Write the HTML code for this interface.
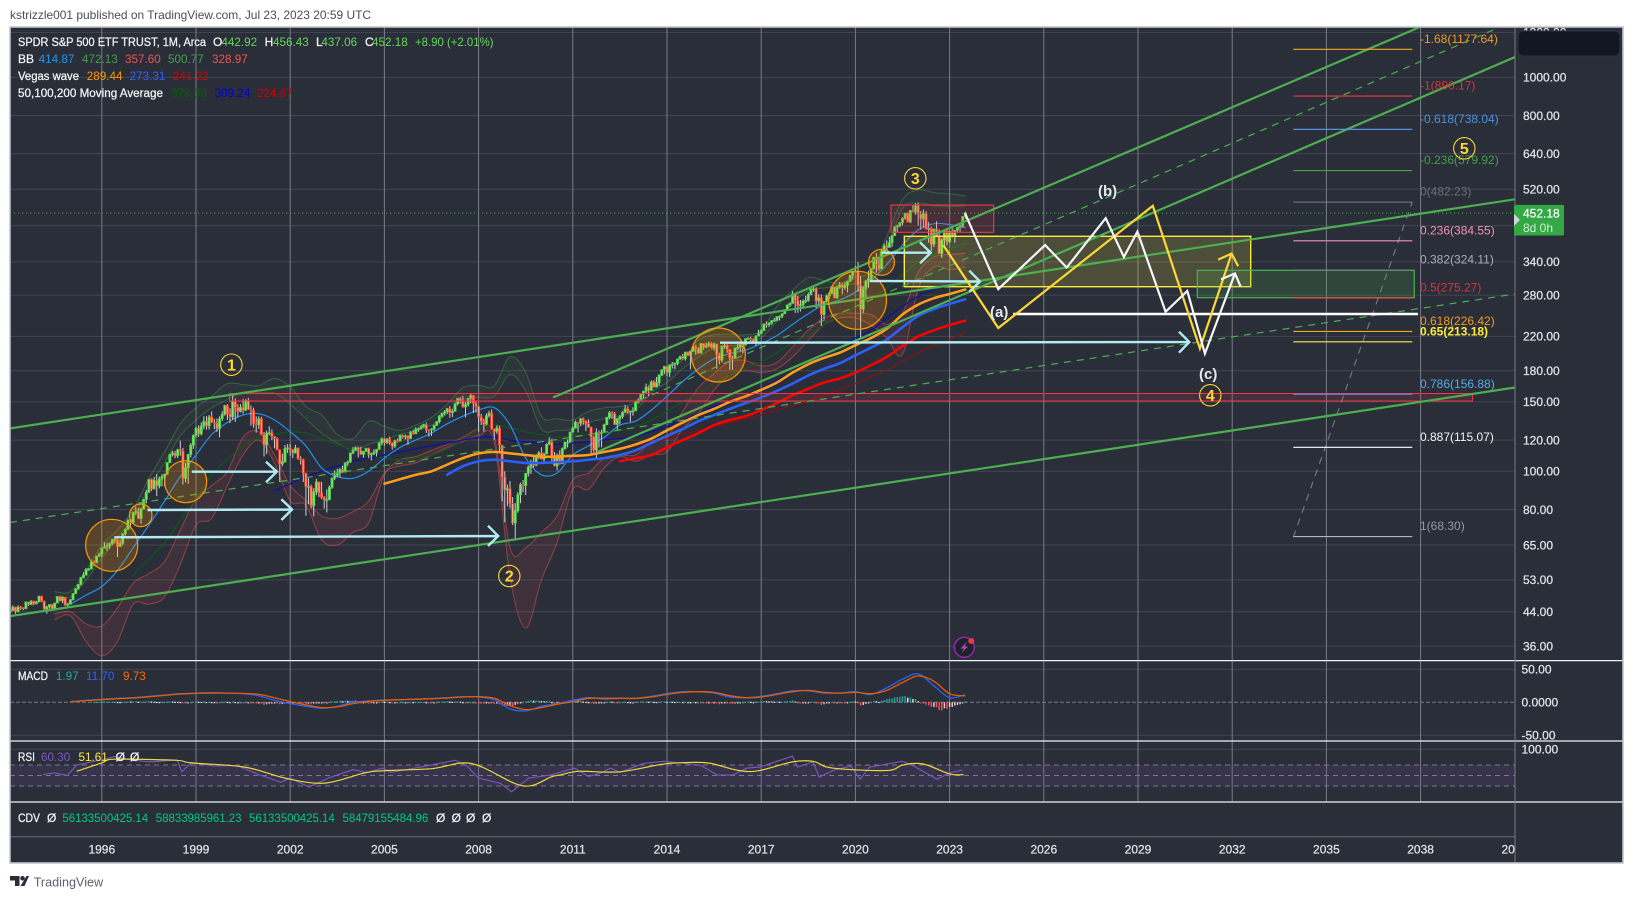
<!DOCTYPE html>
<html lang="en">
<head>
<meta charset="utf-8">
<title>SPDR S&amp;P 500 ETF Trust monthly chart</title>
<style>
html,body{margin:0;padding:0;background:#fff;width:1634px;height:899px;overflow:hidden}
svg{display:block}
text{font-family:"Liberation Sans",sans-serif;font-size:12px}
.axis{fill:#dfe1e6;stroke:#dfe1e6;stroke-width:.25}
.name{fill:#eceef2;stroke:#eceef2;stroke-width:.3}
.num{font-size:11.7px}
.wave-tag{font-size:15px;font-weight:bold;fill:#e6e8ec}
.num-tag{font-size:16px;font-weight:bold;text-anchor:middle}
</style>
</head>
<body>
<svg id="chart" xmlns="http://www.w3.org/2000/svg" width="1634" height="899" viewBox="0 0 1634 899">
  <defs>
    <clipPath id="price-clip"><rect x="11" y="28" width="1504" height="632.5"/></clipPath>
    <clipPath id="macd-clip"><rect x="11" y="661" width="1504" height="80"/></clipPath>
    <clipPath id="rsi-clip"><rect x="11" y="741" width="1504" height="61"/></clipPath>
    <clipPath id="axis-top-clip"><rect x="1516" y="28" width="107" height="120"/></clipPath>
    <clipPath id="time-clip"><rect x="11" y="837" width="1504" height="26"/></clipPath>
  </defs>
  <rect x="0" y="0" width="1634" height="899" fill="#ffffff"/>
  <text x="10" y="19" fill="#4a4d57" textLength="361" lengthAdjust="spacingAndGlyphs">kstrizzle001 published on TradingView.com, Jul 23, 2023 20:59 UTC</text>
  <rect x="10" y="27" width="1613" height="836" fill="#2a2e39"/>
  <g id="grid-layer"></g>
  <g id="rsi-band-layer" clip-path="url(#rsi-clip)">
    <rect x="10" y="765" width="1505" height="21" fill="#7e57c2" fill-opacity=".14"/>
    <line x1="10" x2="1515" y1="765" y2="765" stroke="#787b86" stroke-dasharray="5 4"/>
    <line x1="10" x2="1515" y1="775.5" y2="775.5" stroke="#787b86" stroke-dasharray="5 4"/>
    <line x1="10" x2="1515" y1="786" y2="786" stroke="#787b86" stroke-dasharray="5 4"/>
  </g>
  <g id="price-layer" clip-path="url(#price-clip)"></g>
  <g id="annotation-layer" clip-path="url(#price-clip)">
    <rect x="229.5" y="393.5" width="1243" height="7.5" fill="#f23645" fill-opacity=".14" stroke="#f23645" stroke-width="1"/>
    <rect x="891" y="205" width="102.7" height="27.3" fill="#f23645" fill-opacity=".15" stroke="#f23645" stroke-width="1.1"/>
    <rect x="904.3" y="236.3" width="346.4" height="50.4" fill="#ffeb3b" fill-opacity=".17" stroke="#ffeb3b" stroke-width="1.4"/>
    <rect x="1197.3" y="270.3" width="217" height="27.4" fill="#4caf50" fill-opacity=".18" stroke="#4caf50" stroke-width="1.2"/>
    <line x1="10" y1="428.4" x2="1515" y2="199.3" stroke="#4caf50" stroke-width="2.2"/>
    <line x1="10" y1="616.2" x2="1515" y2="387.5" stroke="#4caf50" stroke-width="2.2"/>
    <line x1="553" y1="397.5" x2="1420" y2="27" stroke="#4caf50" stroke-width="2.2"/>
    <line x1="597" y1="452" x2="1515" y2="57" stroke="#4caf50" stroke-width="2.2"/>
    <line x1="640" y1="400" x2="1500" y2="27" stroke="#4caf50" stroke-width="1.2" stroke-dasharray="7 6"/>
    <line x1="10" y1="522.5" x2="1515" y2="294" stroke="#4caf50" stroke-width="1.2" stroke-dasharray="7 6"/>
    <line x1="1293.3" y1="537.3" x2="1412.3" y2="202" stroke="#787b86" stroke-width="1.1" stroke-dasharray="7 6"/>
    <circle cx="111.7" cy="545.3" r="26" fill="#ff9800" fill-opacity=".22" stroke="#ff9800" stroke-width="1.2"/>
    <circle cx="140.7" cy="515.3" r="11.3" fill="#ff9800" fill-opacity=".22" stroke="#ff9800" stroke-width="1.2"/>
    <circle cx="185.7" cy="481.7" r="21" fill="#ff9800" fill-opacity=".22" stroke="#ff9800" stroke-width="1.2"/>
    <circle cx="718.3" cy="355" r="27" fill="#ff9800" fill-opacity=".22" stroke="#ff9800" stroke-width="1.2"/>
    <circle cx="857.5" cy="300.3" r="29" fill="#ff9800" fill-opacity=".22" stroke="#ff9800" stroke-width="1.2"/>
    <circle cx="881.5" cy="262.3" r="13" fill="#ff9800" fill-opacity=".22" stroke="#ff9800" stroke-width="1.2"/>
    <g fill="none" stroke="#b2ebf2" stroke-width="2.4">
      <path d="M114.3 537.3L498.2 536M488 525.7L498.2 536L488 546"/>
      <path d="M147.5 510L292 509.5M281.4 499.3L292 509.5L281.4 520"/>
      <path d="M191.8 471.7L276.8 471.7M266 461.7L276.8 471.7L266 482.3"/>
      <path d="M720 342.7L1189.3 342M1179 331.7L1189.3 342L1179 352.7"/>
      <path d="M870 281L980 281.5M969.3 270.7L980 281.5L969.3 291.7"/>
      <path d="M881.7 252.7L930.7 252.7M920 242.3L930.7 252.7L920 263.3"/>
    </g>
    <line x1="1013" y1="314" x2="1418" y2="314" stroke="#ffffff" stroke-width="2.4"/>
  </g>
  <g id="fib-layer" clip-path="url(#price-clip)"></g>
  <g id="wave-layer" clip-path="url(#price-clip)"></g>
  <g>
    <text class="wave-tag" x="990" y="317">(a)</text>
    <text class="wave-tag" x="1098" y="196">(b)</text>
    <text class="wave-tag" x="1199" y="379">(c)</text>
    <circle cx="231.4" cy="364.7" r="10.7" fill="none" stroke="#fdd835" stroke-width="1.1"/>
    <text class="num-tag" x="231.4" y="370.4" fill="#fdd835">1</text>
    <circle cx="509.3" cy="576" r="10.7" fill="none" stroke="#fdd835" stroke-width="1.1"/>
    <text class="num-tag" x="509.3" y="581.7" fill="#fdd835">2</text>
    <circle cx="915.3" cy="178.3" r="10.7" fill="none" stroke="#fdd835" stroke-width="1.1"/>
    <text class="num-tag" x="915.3" y="184" fill="#fdd835">3</text>
    <circle cx="1210.3" cy="395.3" r="10.7" fill="none" stroke="#fdd835" stroke-width="1.1"/>
    <text class="num-tag" x="1210.3" y="401" fill="#fdd835">4</text>
    <circle cx="1464.3" cy="148.3" r="10.7" fill="none" stroke="#fdd835" stroke-width="1.1"/>
    <text class="num-tag" x="1464.3" y="154" fill="#fdd835">5</text>
  </g>
  <g id="macd-layer" clip-path="url(#macd-clip)"></g>
  <g id="rsi-layer" clip-path="url(#rsi-clip)"></g>
  <g>
    <line x1="10" x2="1623" y1="660.6" y2="660.6" stroke="#f0f1f3" stroke-width="1.2"/>
    <line x1="10" x2="1623" y1="741" y2="741" stroke="#f0f1f3" stroke-width="1.2"/>
    <line x1="10" x2="1623" y1="802" y2="802" stroke="#f0f1f3" stroke-width="1.2"/>
    <line x1="10" x2="1515" y1="836.7" y2="836.7" stroke="#6a6d78" stroke-width="1"/>
    <line x1="1515" x2="1515" y1="27" y2="863" stroke="#787b86" stroke-width="1"/>
  </g>
  <g id="axis-layer"></g>
  <rect x="1518" y="31" width="102" height="25" rx="5" fill="#131722" stroke="#2f3341"/>
  <g id="badge-layer"></g>
  <g>
    <circle cx="964.3" cy="647.3" r="10" fill="#1e222d" stroke="#9c27b0" stroke-width="1.4"/>
    <path d="M967 641.5L960.5 648.5H964L961.5 653L968 646.5H964.5Z" fill="#ab47bc"/>
    <circle cx="971.3" cy="641" r="3" fill="#f23645"/>
  </g>
  <g>
    <text class="name" x="18" y="46" textLength="188" lengthAdjust="spacingAndGlyphs">SPDR S&amp;P 500 ETF TRUST, 1M, Arca</text>
    <text class="name" x="213" y="46">O</text>
    <text class="num" x="221.4" y="46" fill="#66d65c">442.92</text>
    <text class="name" x="264.6" y="46">H</text>
    <text class="num" x="273" y="46" fill="#66d65c">456.43</text>
    <text class="name" x="316" y="46">L</text>
    <text class="num" x="321.4" y="46" fill="#66d65c">437.06</text>
    <text class="name" x="365" y="46">C</text>
    <text class="num" x="372" y="46" fill="#66d65c">452.18</text>
    <text class="num" x="415" y="46" fill="#66d65c" textLength="78.5" lengthAdjust="spacingAndGlyphs">+8.90 (+2.01%)</text>
    <text class="name" x="18" y="63">BB</text>
    <text class="num" x="38.6" y="63" fill="#2196f3">414.87</text>
    <text class="num" x="82" y="63" fill="#43a047">472.13</text>
    <text class="num" x="125" y="63" fill="#ef5350">357.60</text>
    <text class="num" x="168" y="63" fill="#43a047">500.77</text>
    <text class="num" x="212" y="63" fill="#ef5350">328.97</text>
    <text class="name" x="18" y="80" textLength="61" lengthAdjust="spacingAndGlyphs">Vegas wave</text>
    <text class="num" x="86.8" y="80" fill="#ff9800">289.44</text>
    <text class="num" x="129.6" y="80" fill="#2962ff">273.31</text>
    <text class="num" x="172.9" y="80" fill="#d50000">241.22</text>
    <text class="name" x="18" y="97" textLength="145" lengthAdjust="spacingAndGlyphs">50,100,200 Moving Average</text>
    <text class="num" x="171" y="97" fill="#006400">378.30</text>
    <text class="num" x="214.6" y="97" fill="#0000cc">309.24</text>
    <text class="num" x="257" y="97" fill="#cc0000">224.67</text>
  </g>
  <g>
    <text class="name" x="18" y="680" textLength="30" lengthAdjust="spacingAndGlyphs">MACD</text>
    <text class="num" x="55.9" y="680" fill="#26a69a">1.97</text>
    <text class="num" x="86" y="680" fill="#2962ff">11.70</text>
    <text class="num" x="123" y="680" fill="#ff6d00">9.73</text>
  </g>
  <g>
    <text class="name" x="18" y="761" textLength="17" lengthAdjust="spacingAndGlyphs">RSI</text>
    <text class="num" x="41" y="761" fill="#7e57c2">60.30</text>
    <text class="num" x="78.5" y="761" fill="#ffeb3b">51.61</text>
    <text class="name" x="115.6" y="761">Ø</text>
    <text class="name" x="130" y="761">Ø</text>
  </g>
  <g>
    <text class="name" x="18" y="822" textLength="22" lengthAdjust="spacingAndGlyphs">CDV</text>
    <text class="name" x="47" y="822">Ø</text>
    <text x="62.4" y="822" fill="#00c982" textLength="85.7" lengthAdjust="spacingAndGlyphs">56133500425.14</text>
    <text x="155.8" y="822" fill="#00c982" textLength="85.7" lengthAdjust="spacingAndGlyphs">58833985961.23</text>
    <text x="249" y="822" fill="#00c982" textLength="85.7" lengthAdjust="spacingAndGlyphs">56133500425.14</text>
    <text x="342.5" y="822" fill="#00c982" textLength="85.7" lengthAdjust="spacingAndGlyphs">58479155484.96</text>
    <text class="name" x="436" y="822">Ø</text>
    <text class="name" x="451.6" y="822">Ø</text>
    <text class="name" x="466" y="822">Ø</text>
    <text class="name" x="482" y="822">Ø</text>
  </g>
  <rect x="10" y="27" width="1613" height="836" fill="none" stroke="#c3c5cb" stroke-width="1.6"/>
  <g>
    <path d="M10 876h9.5v10h-4.5v-5.5h-5zM26.5 876h2.5l-4.5 10h-4z" fill="#2a2e39"/>
    <circle cx="22.5" cy="878.3" r="2.3" fill="#2a2e39"/>
    <text x="33.7" y="886.5" fill="#5d606b" textLength="69.5" lengthAdjust="spacingAndGlyphs" style="font-size:13px">TradingView</text>
  </g>
<script>
/* ---------- price data: monthly SPY candles from Jan 1993 ---------- */
const firstMonthYear = 1993;
const closes = [
43.9,44.3,45.2,44.0,45.2,45.1,44.8,46.6,45.9,46.8,46.1,46.6,
48.2,46.8,44.7,45.3,45.9,44.7,46.3,48.1,46.9,47.9,45.8,46.0,
47.2,48.9,50.3,51.6,53.8,54.5,56.4,56.5,58.9,58.6,60.9,61.5,
63.8,64.3,64.7,65.5,67.1,67.2,64.4,65.7,69.4,71.2,75.2,74.1,
78.6,79.2,75.9,80.3,84.8,88.4,95.3,90.2,94.9,91.8,95.6,97.0,
98.3,105.2,110.2,111.3,109.5,113.5,112.6,95.9,102.1,110.3,116.5,123.3,
128.6,124.4,130.2,133.9,130.4,137.4,133.1,132.6,128.3,136.0,139.3,146.9,
139.6,137.4,150.4,145.1,141.8,145.3,143.0,151.3,143.6,142.8,131.8,131.2,
136.0,123.9,116.7,125.0,125.3,122.6,121.1,113.4,104.4,105.8,114.3,114.7,
113.3,111.3,114.6,107.7,106.9,98.9,91.5,91.6,81.8,88.7,94.0,88.2,
85.8,84.7,84.7,91.1,96.1,97.6,99.1,101.1,99.5,104.9,105.6,111.3,
113.1,114.8,113.1,110.4,112.3,114.4,110.3,110.9,111.8,113.6,118.1,120.9,
118.2,120.6,118.2,115.8,119.5,119.3,123.5,122.4,123.0,121.1,125.5,124.5,
128.0,128.1,129.7,131.5,127.5,127.3,127.9,130.9,133.6,137.9,140.4,141.6,
144.2,140.9,142.0,148.3,153.3,150.4,145.7,147.6,153.0,155.9,148.7,146.2,
137.4,133.8,131.9,138.3,140.4,127.9,126.2,128.8,116.5,96.8,89.6,90.3,
82.8,73.9,79.5,87.2,92.5,92.0,98.8,102.5,105.6,103.6,109.8,111.4,
107.4,110.7,117.0,118.8,108.9,103.2,110.0,104.5,114.1,118.5,118.5,125.8,
128.7,133.2,132.5,136.0,134.4,132.1,129.3,122.1,113.2,125.5,125.1,125.5,
131.3,137.0,140.8,139.9,131.5,136.1,137.7,141.2,144.0,141.5,142.2,142.4,
149.7,151.6,156.7,159.7,163.4,160.4,168.7,163.6,168.0,175.8,181.0,184.7,
178.2,186.3,187.0,188.3,192.7,195.7,193.1,200.7,197.0,201.7,207.2,205.5,
199.5,211.0,206.4,208.5,211.1,205.9,210.5,197.7,191.6,207.9,208.7,203.9,
193.7,193.6,205.5,206.3,209.8,209.5,217.1,217.4,216.3,212.6,220.4,223.5,
227.5,236.5,235.7,238.1,241.4,241.8,247.0,247.5,251.2,257.2,264.5,266.9,
281.9,271.7,263.2,264.5,270.9,271.3,281.3,290.3,290.7,270.6,275.7,249.9,
269.9,278.7,282.5,294.0,275.3,293.0,297.4,292.5,297.0,303.3,314.3,321.9,
321.7,296.3,257.8,290.5,304.3,308.4,326.5,349.3,334.9,326.5,362.1,373.9,
370.1,380.4,396.3,417.3,420.0,428.1,438.5,451.6,429.1,459.3,455.6,474.96,
449.9,436.6,451.6,412.0,412.9,377.3,411.99,395.2,357.2,386.2,407.7,382.4,
406.5,396.3,409.4,415.9,417.9,443.3,452.18];
const highs = [
44.2,45.1,45.7,45.3,45.7,45.5,45.2,46.6,46.7,47.1,47.0,46.9,
48.3,48.2,47.0,45.6,46.0,46.1,46.4,48.2,48.3,48.2,47.9,46.4,
47.4,49.1,50.5,51.7,53.9,55.4,56.8,56.8,58.9,59.4,60.9,62.2,
64.0,66.0,65.9,66.0,67.4,68.0,67.2,67.0,69.7,71.6,75.6,75.7,
79.0,81.3,80.7,80.9,85.0,89.7,95.7,95.9,96.6,98.4,97.0,98.3,
98.7,105.5,110.9,112.7,112.7,114.1,119.6,114.7,105.2,110.8,117.9,124.1,
129.6,130.8,133.0,138.0,137.9,139.0,141.9,135.9,136.1,137.9,142.0,147.5,
148.2,144.6,155.7,153.1,148.0,148.0,152.5,152.5,153.6,147.0,145.0,137.8,
137.9,137.5,125.8,126.8,130.0,127.8,122.8,122.0,113.8,110.8,116.7,117.2,
117.2,113.9,116.7,114.9,109.1,107.6,99.1,96.1,92.5,90.6,95.7,94.0,
94.0,86.5,90.0,92.0,96.5,100.5,101.5,102.0,103.4,105.5,106.5,111.5,
115.2,115.7,115.6,115.4,112.6,114.7,114.8,111.5,113.8,114.0,118.7,121.8,
121.5,121.4,122.4,118.5,120.3,121.1,123.8,123.8,124.0,123.5,126.5,127.4,
129.4,129.2,131.1,132.0,132.9,127.9,128.6,131.3,134.1,139.0,140.9,143.0,
144.8,146.4,143.5,149.4,153.5,154.4,155.5,149.7,153.7,157.5,155.0,151.0,
144.9,139.9,136.0,140.3,142.5,143.6,128.5,130.9,130.5,116.0,100.0,92.5,
94.5,86.0,83.0,88.5,93.5,95.0,99.0,103.5,107.0,110.0,110.5,112.5,
115.0,111.5,117.8,122.0,121.0,112.0,111.0,113.0,115.0,119.0,120.5,126.0,
130.0,134.5,133.0,136.5,137.0,134.0,135.5,130.0,123.0,128.5,127.0,127.5,
132.0,137.5,142.0,142.0,141.5,136.5,139.0,142.0,147.5,146.0,142.5,145.5,
150.5,153.0,156.9,160.0,167.0,165.0,170.0,170.0,173.5,176.0,181.5,185.0,
184.5,186.5,189.5,189.0,192.8,196.5,198.5,200.8,201.5,202.0,207.5,209.5,
206.5,211.5,211.5,212.0,213.5,212.5,212.5,211.0,200.0,208.0,211.0,210.0,
201.5,196.5,206.5,210.5,210.5,212.5,217.5,219.0,219.5,217.5,221.5,228.5,
229.0,237.5,240.0,239.0,242.0,245.0,247.5,248.5,251.5,257.5,265.0,268.5,
286.5,283.0,279.0,272.0,273.0,279.0,284.5,291.5,293.9,293.0,281.5,281.0,
270.5,281.0,285.0,294.5,294.5,296.5,302.5,300.5,302.5,304.5,315.5,322.0,
332.0,339.5,313.0,294.5,306.0,323.0,327.5,350.0,358.5,350.5,364.5,378.5,
385.5,394.0,398.0,418.5,422.5,429.0,441.5,453.0,454.0,460.0,473.5,479.0,
480.5,458.0,462.0,457.8,429.5,417.5,413.0,431.5,411.5,390.5,408.0,410.5,
408.0,418.5,409.7,415.9,422.5,444.5,456.4];
const lows = [
43.3,43.0,44.2,43.5,44.0,44.5,44.4,44.8,45.5,45.8,45.7,46.0,
46.5,46.5,44.0,43.5,44.8,44.5,44.7,46.3,46.7,46.3,45.5,45.2,
45.9,47.0,48.8,50.1,51.3,53.5,54.5,55.9,56.5,57.5,58.5,60.6,
60.6,63.8,62.8,63.5,64.9,65.6,60.6,64.2,64.8,68.7,71.0,72.0,
73.6,77.5,75.6,73.6,80.0,82.9,88.2,89.2,90.0,86.5,90.5,91.6,
91.5,98.3,104.9,109.0,108.0,108.0,109.6,92.6,93.8,92.9,108.4,114.0,
121.5,122.2,123.4,127.8,127.6,127.6,132.6,128.0,125.9,122.0,134.1,138.5,
135.0,132.5,135.0,133.5,137.0,141.1,140.0,142.1,143.1,130.6,129.0,125.4,
128.0,123.5,109.0,110.5,123.4,120.0,114.3,113.0,94.0,103.0,105.0,111.3,
109.5,108.0,111.0,107.0,104.0,94.0,77.1,82.5,80.5,76.9,87.0,86.0,
85.0,80.5,78.6,84.5,90.2,95.0,96.5,96.5,98.9,100.5,103.0,105.0,
110.5,112.6,108.5,110.0,108.3,112.0,108.0,106.6,110.0,109.0,113.5,116.3,
116.2,117.3,116.8,113.5,114.6,118.2,119.4,121.2,120.3,116.7,120.6,124.0,
124.5,126.0,127.6,129.0,125.1,122.4,123.0,126.9,130.3,132.4,137.0,138.7,
140.0,136.8,137.4,141.9,147.0,148.5,145.0,137.0,146.0,149.0,140.5,141.0,
126.0,131.0,126.0,131.0,137.0,127.5,120.4,124.5,111.4,84.0,74.3,81.5,
80.5,73.0,67.1,78.5,83.0,88.5,87.0,97.0,98.5,102.0,103.0,107.5,
107.0,105.0,110.5,116.5,104.5,102.9,100.5,104.0,105.0,113.5,115.0,119.0,
125.5,129.5,125.5,130.5,131.5,126.5,129.0,110.0,111.5,107.5,115.0,115.0,
126.5,131.0,135.5,136.0,131.0,127.5,131.5,136.0,140.5,140.0,133.5,138.5,
145.5,148.5,151.5,153.5,158.0,155.0,160.5,163.0,163.5,164.5,174.5,177.0,
174.5,173.5,182.5,181.5,186.0,191.5,192.0,191.0,196.0,181.5,201.0,197.5,
198.5,199.5,203.5,205.5,206.5,205.0,202.5,182.0,187.0,189.0,204.5,200.0,
181.0,181.0,193.0,203.0,202.0,199.0,208.5,216.5,212.0,211.0,208.5,220.5,
223.5,227.5,231.5,232.5,235.5,239.5,240.5,241.5,244.5,252.0,255.5,261.5,
267.5,252.5,252.5,254.5,258.5,267.0,269.5,279.5,285.5,259.5,264.0,234.0,
243.5,268.0,273.5,281.5,275.0,274.0,290.5,281.5,289.0,284.5,304.0,306.5,
319.5,285.5,218.0,252.0,272.5,292.5,303.0,325.0,319.5,322.5,329.0,357.5,
364.5,369.5,371.0,398.0,404.0,416.0,421.0,435.0,428.5,426.5,454.5,448.0,
420.5,410.5,415.0,412.0,380.5,362.0,371.0,395.0,357.0,348.0,368.5,374.5,
380.5,392.5,380.5,403.5,403.8,417.4,437.1];

/* ---------- half-yearly indicator readings (prices) ---------- */
const bandStartYear = 1994.5;
const bbUpperOuter = [49.5,49.5,56,65,71,80,96,112,132,145,155,167,166,165,172,164,146,139,124,121,134,130,127,131,137,148,163,165,165,195,178,138,136,135,142,145,146,150,168,178,192,215,222,223,222,228,262,288,310,305,300,312,322,395,490,518,510,506,500.8];
const bbUpperInner = [48,48,53,60,68,76,91,105,123,135,145,152,159,158,158,148,136,125,118,113,117,120,124,127,131,140,152,154,155,176,160,128,127,128,133,136,138,143,158,168,182,195,205,208,210,218,240,266,288,292,294,300,308,365,465,480,472,470,472];
const bbLowerInner = [43.5,44,41,40.5,45,52,55,59,71,85,92,100,122,126,110,92,84.5,77,76,79,84,99,107,109,113,117,122,128,123,64,64,70,77,95,99,108,110,110,119,122,142,163,177,190,191,185,189,207,228,245,252,252,250,236,252,320,350,355,357.6];
const bbLowerOuter = [42,43,37,34,37,46,46,48,58,73,76,92,110,120,105,84,82,67,65,70,74,98,103,105,110,115,119,123,118,54,40,53,66,90,90,102,109,106,110,112,128,140,161,175,180,178,182,195,215,235,245,245,235,218,198,290,330,325,329];
const basisStartYear = 1995;
const bbBasis = [46,48.5,51,56,64,73,84,97,110,124,133,139,140,135,126,116,102,97,96,100,108,115,120,125,132,138,143,145,131,108,98,99,110,116,122,131,134,143,155,169,182,193,199,203,211,221,236,251,265,272,285,305,335,375,410,425,423,415];
const ma50StartYear = 1997;
const ma50 = [54.5,60,66,75,85,98,107,116,122,124,126,125,121,117,113,110,108,107,108,110,114,120,128,131,129,126,124,122,123,124,125,127,130,135,142,150,158,167,175,182,190,200,212,222,235,247,262,275,292,315,340,355,367,378.3];
const ma100StartYear = 2001.5;
const ma100 = [89,93,97,100,103,106,108,110,112,114,116,118,120,122,122,120,119,118,117,118,119,120,121,123,126,130,135,140,146,150,155,162,170,178,187,197,206,218,228,245,262,278,290,300,309.24];
const ma200StartYear = 2009.5;
const ma200 = [104,105,106,108,110,112,114,116,118,121,124,127,130,133,136,139,143,147,151,156,161,167,174,181,190,200,208,216,224.67];
const vegasOrangeStartYear = 2005;
const vegasOrange = [93,95.5,98,100,104,108,111,112,111,110,109,109,109.5,110,112,114,117,121,127,133,139,144,150,155,161,168,178,187,194,200,209,218,230,250,265,275,282,289.44];
const vegasBlueStartYear = 2007;
const vegasBlue = [98,103,106,107,106,105,105,105.5,106,107,108,110,113,118,123,128,134,139,144,149,154,160,167,175,182,188,197,206,216,232,248,258,266,273.31];
const vegasRedStartYear = 2012.5;
const vegasRed = [106,108,110,115,120,125,131,135,138,143,149,156,162,168,172,178,186,195,208,220,228,235,241.22];

/* ---------- projected waves: time and price ---------- */
const whiteWaveYears = [2023.49,2024.55,2026.04,2026.73,2027.97,2028.55,2028.98,2029.88,2030.57,2031.13,2032.09];
const whiteWavePrices = [452,290,375,329,439,350,406,254,287,199,318];
const yellowWaveYears = [2022.8,2024.55,2029.47,2030.97,2031.98];
const yellowWavePrices = [375,231,472,205,357];

/* ---------- fibonacci retracement ---------- */
const fibRatios = ['-1.68','-1','-0.618','-0.236','0','0.236','0.382','0.5','0.618','0.65','0.786','0.887','1'];
const fibPrices = [1177.64,896.17,738.04,579.92,482.23,384.55,324.11,275.27,226.42,213.18,156.88,115.07,68.30];
const fibLineColors = ['#f5a623','#f23645','#5b9cf0','#43a047','#787b86','#f48fb1','#787b86','#f23645','#f5a623','#ffeb3b','#5b9cf0','#ffffff','#b2b5be'];
const fibTextColors = ['#f39c1f','#d8323f','#4a90e2','#43a047','#6b6e79','#f48fb1','#a8abb4','#d8323f','#f39c1f','#ffeb3b','#5aa9e6','#f2f3f5','#9598a1'];

/* ---------- MACD readings ---------- */
const macdStartYear = 1995;
const macdLine = [1,3,4.5,6,7,9,11,13,14,14.5,14,13,10,3,-2,-6,-9,-6,0,2,3.5,4,5,5.5,7,8.5,8,4,-10,-13,-6,-2,3,7,5,6,6,9,13,16,16,14,8,7,9,13,17.5,17.5,14,14,16,12,22,35,43,25,7,11.7];
const macdSignal = [1,2.5,4,5.5,6.5,8.5,10.5,12.5,13.5,14,14,13.5,12,7,1,-4,-8,-7,-2,1.5,3,4,4.5,5.5,6.5,8,8.5,6,-5,-11,-8,-3,1,6,6,6,6,8,12,15,16,15,10,7,8,12,16,18,15,14,15,13,18,30,40,32,13,9.73];
const histStartYear = 1995.75;
const macdHist = [
.6,.7,.7,
1,1,1,1,1,1,.6,.4,.6,1,1.4,1.2,
1.5,1.5,.9,1,1.2,1.5,2,1.2,1,.6,.5,.5,
.5,1,1.3,1.2,.8,.7,.5,-1,-1.5,-1.2,.3,1,
1.2,.8,.7,.9,.5,.6,.4,.2,-.2,.2,.4,1,
.6,.2,1,.5,0,0,-.3,.4,.1,-.3,-1.3,-2,
-1.5,-2.5,-4,-3,-2,-2,-1.5,-2,-3,-2.5,-1.2,-.5,
-.4,-.4,.2,-.5,-.6,-1.5,-2.5,-2.2,-3,-2,-.8,-.6,
-.6,-.7,-.5,.5,1.5,2,2.2,2.4,2,2.4,2.2,2.6,
2.6,2.4,1.5,.5,.2,.2,-.4,-.7,-.6,-.3,.5,1.2,
.8,.8,.3,-.3,-.1,0,.3,.3,.1,-.1,.3,.2,
.5,.5,.6,.6,.1,-.2,-.3,-.2,.2,.8,1.2,1.4,
1.5,1.1,.8,1,1.3,1,.2,-.2,.1,.4,-.3,-.7,
-1.5,-2,-2.2,-1.7,-1,-1.8,-2.2,-2,-3,-5,-6,-5,
-5,-5.5,-4,-2,-.5,.5,1.5,2.5,3,2.5,2.8,2.8,
2,1.8,2.2,2.2,.3,-1,-.8,-1.5,-.5,.4,.5,1.5,
1.8,2.2,1.8,1.8,1.2,.7,.2,-1,-2.5,-1.7,-1.3,-.9,
-.2,.7,1.2,1,-.1,-.2,.1,.4,.7,.4,.1,0,
.8,1,1.3,1.3,1.4,.9,1.3,.6,.5,1.1,1.4,1.5,
.6,1,.8,.6,.7,.8,.4,.7,.2,.1,.5,.2,
-.4,.2,-.2,-.3,-.1,-.7,-.6,-2,-3,-1.5,-.8,-1,
-2.2,-2.5,-1,-.4,-.1,0,1,1,.7,.2,.8,1.1,
1.5,2,1.7,1.5,1.4,1.1,1.2,.9,1,1.5,2,2,
3,1.2,-.5,-1.5,-1.3,-1,-.2,.8,.8,-1.8,-1.9,-4,
-3,-1.5,-.5,.5,-1,-.4,.2,-.5,-.6,-.3,.7,1.5,
1.2,-.8,-5,-4,-2.5,-1,.6,2.3,1.6,.6,2.5,3.5,
5,5.5,6,7.5,8,8.5,9,9.5,7,7.5,5,5,
1.8,-.3,-1,-3.5,-4.5,-7,-7,-7.5,-12,-12.5,-9,-10,
-7,-7,-5,-4,-3,-1,2];

/* ---------- RSI readings ---------- */
const rsiYears = [1994.13,1994.5,1994.9,1995.2,1996,1996.4,1997,1997.6,1998.4,1998.55,1998.85,1999.57,2000.3,2001.04,2001.7,2002,2002.6,2003.25,2004,2004.45,2004.95,2005.2,2006.15,2007.25,2007.6,2008,2008.7,2009.05,2009.6,2010.3,2011.05,2011.5,2011.9,2012.2,2012.5,2013.25,2013.9,2015.05,2015.6,2016.1,2016.55,2016.95,2018,2018.15,2018.65,2018.85,2019.3,2019.85,2020.15,2020.45,2021.5,2021.8,2022.6,2023,2023.4];
const rsiValues = [52,55,50,70,80,86,79,76,80,57,75,68,69,51,37,45,28,46,61,56,64,56,66,79,70,45,35,19,45,51,64,48,55,64,56,73,77,70,51,51,64,66,87,66,76,47,60,68,43,66,77,70,43,55,60.3];
const rsiMaYears = [1995.2,1996,1996.4,1998.35,1998.85,2000.55,2001.9,2003.1,2004.35,2004.95,2006.5,2007.75,2009.15,2009.7,2010.3,2010.6,2011.2,2012.5,2013.9,2014.85,2015.4,2016.25,2016.9,2018,2018.65,2019.1,2019.9,2021.1,2021.5,2022.15,2023,2023.45];
const rsiMaValues = [58,74,81,79,74,66,44,35.5,54.5,59,63,73,35,31,47,51,58,57,72,75,73,60,59,76,77,66,61,60,70,72,53,51.61];

/* ---------- axis ticks ---------- */
const priceTicks = [1300,1000,800,640,520,420,340,280,220,180,150,120,100,80,65,53,44,36];
const priceTickLabels = ['1300.00','1000.00','800.00','640.00','520.00','','340.00','280.00','220.00','180.00','150.00','120.00','100.00','80.00','65.00','53.00','44.00','36.00'];
const timeTicks = [1996,1999,2002,2005,2008,2011,2014,2017,2020,2023,2026,2029,2032,2035,2038,2041];
const timeTickLabels = ['1996','1999','2002','2005','2008','2011','2014','2017','2020','2023','2026','2029','2032','2035','2038','2041'];
const macdTicks = [50,0,-50];
const macdTickLabels = ['50.00','0.0000','-50.00'];
const rsiTicks = [100];
const rsiTickLabels = ['100.00'];

/* ---------- axis functions ---------- */
const xOfYear = year => 101.8 + (year - 1996) * 31.4;
const yOfPrice = price => 471.3 - 171.1 * Math.log(price / 100);
const yOfMacd = value => 702.3 - value * 0.66;
const yOfRsi = value => 775.5 - (value - 50) * 0.525;

const SVGNS = 'http://www.w3.org/2000/svg';
function mk(parent, tag, attrs, text) {
  const el = document.createElementNS(SVGNS, tag);
  for (const k in attrs) el.setAttribute(k, attrs[k]);
  if (text !== undefined) el.textContent = text;
  parent.appendChild(el);
  return el;
}
function smooth(pts, cont) {
  let d = (cont ? 'L' : 'M') + pts[0][0].toFixed(1) + ' ' + pts[0][1].toFixed(1);
  for (let i = 0; i < pts.length - 1; i++) {
    const p0 = pts[Math.max(0, i - 1)], p1 = pts[i], p2 = pts[i + 1], p3 = pts[Math.min(pts.length - 1, i + 2)];
    const c1x = p1[0] + (p2[0] - p0[0]) / 6, c1y = p1[1] + (p2[1] - p0[1]) / 6;
    const c2x = p2[0] - (p3[0] - p1[0]) / 6, c2y = p2[1] - (p3[1] - p1[1]) / 6;
    d += 'C' + c1x.toFixed(1) + ' ' + c1y.toFixed(1) + ' ' + c2x.toFixed(1) + ' ' + c2y.toFixed(1) + ' ' + p2[0].toFixed(1) + ' ' + p2[1].toFixed(1);
  }
  return d;
}
const halfYearPoints = (start, values) => values.map((v, i) => [xOfYear(start + i * 0.5), yOfPrice(v)]);
const straight = pts => 'M' + pts.map(p => p[0].toFixed(1) + ' ' + p[1].toFixed(1)).join('L');

/* ---------- grid ---------- */
const gridLayer = document.getElementById('grid-layer');
priceTicks.forEach(t => {
  const el = mk(gridLayer, 'line', {x1: 10, x2: 1515, y1: yOfPrice(t), y2: yOfPrice(t), stroke: '#434651', 'stroke-width': 1});
  
  
});
macdTicks.filter(t => t !== 0).forEach(t => {
  const el = mk(gridLayer, 'line', {x1: 10, x2: 1515, y1: yOfMacd(t), y2: yOfMacd(t), stroke: '#434651', 'stroke-width': 1});
  
  
});
const macdZeroLine = mk(gridLayer, 'line', {x1: 10, x2: 1515, y1: yOfMacd(0), y2: yOfMacd(0), stroke: '#787b86', 'stroke-width': 1, 'stroke-dasharray': '4 2'});


rsiTicks.forEach(t => {
  const el = mk(gridLayer, 'line', {x1: 10, x2: 1515, y1: yOfRsi(t), y2: yOfRsi(t), stroke: '#434651', 'stroke-width': 1});
  
  
});
timeTicks.forEach(t => {
  if (xOfYear(t) >= 1514) return;
  const el = mk(gridLayer, 'line', {x1: xOfYear(t), x2: xOfYear(t), y1: 27, y2: 802, stroke: '#787b86', 'stroke-width': 1});
  
  
});

/* ---------- price pane ---------- */
const priceLayer = document.getElementById('price-layer');
function bandFill(name, upper, lower, color, opacity) {
  const up = halfYearPoints(bandStartYear, upper);
  const low = halfYearPoints(bandStartYear, lower).reverse();
  const el = mk(priceLayer, 'path', {d: smooth(up) + smooth(low, true) + 'Z', fill: color, 'fill-opacity': opacity, stroke: 'none'});
  
  
}
bandFill('bb-upper-fill', bbUpperOuter, bbUpperInner, '#4caf50', 0.07);
bandFill('bb-lower-fill', bbLowerInner, bbLowerOuter, '#ef5350', 0.11);

function seriesLine(name, start, values, color, width, opacity) {
  const el = mk(priceLayer, 'path', {d: smooth(halfYearPoints(start, values)), fill: 'none', stroke: color, 'stroke-width': width, 'stroke-opacity': opacity, 'stroke-linejoin': 'round', 'stroke-linecap': 'round'});
  
  
}
seriesLine('bb-upper-outer-line', bandStartYear, bbUpperOuter, '#4caf50', 1, 0.38);
seriesLine('bb-upper-inner-line', bandStartYear, bbUpperInner, '#4caf50', 1, 0.38);
seriesLine('bb-lower-inner-line', bandStartYear, bbLowerInner, '#ef5350', 1, 0.5);
seriesLine('bb-lower-outer-line', bandStartYear, bbLowerOuter, '#ef5350', 1, 0.5);
seriesLine('ma50-line', ma50StartYear, ma50, '#0a5c16', 1.1, 1);
seriesLine('ma100-line', ma100StartYear, ma100, '#0f0fa8', 1.2, 1);
seriesLine('ma200-line', ma200StartYear, ma200, '#8f1010', 1.1, 1);
seriesLine('bb-basis-line', basisStartYear, bbBasis, '#2196f3', 1.2, 0.95);

const candleGroup = mk(priceLayer, 'g', {});


closes.forEach((close, i) => {
  const x = xOfYear(firstMonthYear + i / 12);
  const open = i === 0 ? 43.4 : closes[i - 1];
  const wick = mk(candleGroup, 'line', {x1: x, x2: x, y1: yOfPrice(highs[i]), y2: yOfPrice(lows[i]), stroke: '#cdcfd5', 'stroke-width': 1});
  
  
  const top = yOfPrice(Math.max(open, close));
  const bottom = yOfPrice(Math.min(open, close));
  const up = close >= open;
  const body = mk(candleGroup, 'rect', {x: x - 1.05, y: top, width: 2.1, height: Math.max(bottom - top, 1), fill: up ? '#7aec60' : '#ffa588', stroke: up ? '#4fd04a' : '#ff3a24', 'stroke-width': 0.8});
  
  
});

seriesLine('vegas-orange-line', vegasOrangeStartYear, vegasOrange, '#ff9f1c', 2.5, 1);
seriesLine('vegas-blue-line', vegasBlueStartYear, vegasBlue, '#2962ff', 2.5, 1);
seriesLine('vegas-red-line', vegasRedStartYear, vegasRed, '#ff0000', 2.5, 1);

const lastClose = closes[closes.length - 1];
const priceDots = mk(priceLayer, 'line', {x1: 10, x2: 1515, y1: yOfPrice(lastClose), y2: yOfPrice(lastClose), stroke: '#4caf50', 'stroke-width': 1, 'stroke-dasharray': '1 3'});



/* ---------- fibonacci ---------- */
const fibLayer = document.getElementById('fib-layer');
fibPrices.forEach((p, i) => {
  const y = yOfPrice(p);
  const line = mk(fibLayer, 'line', {x1: 1293.3, x2: 1412.3, y1: y, y2: y, stroke: fibLineColors[i], 'stroke-width': 1.1});
  
  
  const label = mk(fibLayer, 'text', {x: 1420, y: y - 6.5, fill: fibTextColors[i], 'font-weight': p === 213.18 ? 'bold' : 'normal'}, fibRatios[i] + '(' + p.toFixed(2) + ')');
  
  
});

/* ---------- wave projections ---------- */
const waveLayer = document.getElementById('wave-layer');
function wave(name, years, prices, color, head) {
  const pts = years.map((yr, i) => [xOfYear(yr), yOfPrice(prices[i])]);
  const path = mk(waveLayer, 'path', {d: straight(pts), fill: 'none', stroke: color, 'stroke-width': 2.2, 'stroke-linejoin': 'miter'});
  
  
  const end = pts[pts.length - 1];
  const tip = mk(waveLayer, 'path', {d: straight([[end[0] + head[0], end[1] + head[1]], end, [end[0] + head[2], end[1] + head[3]]]), fill: 'none', stroke: color, 'stroke-width': 2.2});
  
  
}
wave('yellow-wave-path', yellowWaveYears, yellowWavePrices, '#fdd835', [-13.4, 6, 6.6, 12.7]);
wave('white-wave-path', whiteWaveYears, whiteWavePrices, '#f5f6f8', [-14, 6, 5.7, 13.4]);

/* ---------- MACD ---------- */
const macdLayer = document.getElementById('macd-layer');
macdHist.forEach((v, i) => {
  const prev = i ? macdHist[i - 1] : 0;
  const x = xOfYear(histStartYear + i / 12);
  const color = v >= 0 ? (v >= prev ? '#26a69a' : '#e0f2f1') : (v < prev ? '#ff5252' : '#ffcdd2');
  const bar = mk(macdLayer, 'rect', {x: x - 0.7, y: Math.min(yOfMacd(v), yOfMacd(0)), width: 1.4, height: Math.max(Math.abs(yOfMacd(v) - yOfMacd(0)), 1.2), fill: color});
  
  
});
const macdPts = macdLine.map((v, i) => [xOfYear(macdStartYear + i * 0.5), yOfMacd(v)]);
const macdPath = mk(macdLayer, 'path', {d: smooth(macdPts), fill: 'none', stroke: '#2962ff', 'stroke-width': 1.3});


const signalPts = macdSignal.map((v, i) => [xOfYear(macdStartYear + i * 0.5), yOfMacd(v)]);
const signalPath = mk(macdLayer, 'path', {d: smooth(signalPts), fill: 'none', stroke: '#e65c00', 'stroke-width': 1.3});



/* ---------- RSI ---------- */
const rsiLayer = document.getElementById('rsi-layer');
const rsiPath = mk(rsiLayer, 'path', {d: straight(rsiYears.map((yr, i) => [xOfYear(yr), yOfRsi(rsiValues[i])])), fill: 'none', stroke: '#7e57c2', 'stroke-width': 1.1});


const rsiMaPath = mk(rsiLayer, 'path', {d: smooth(rsiMaYears.map((yr, i) => [xOfYear(yr), yOfRsi(rsiMaValues[i])])), fill: 'none', stroke: '#e8d83a', 'stroke-width': 1.2});



/* ---------- axes ---------- */
const axisLayer = document.getElementById('axis-layer');
priceTicks.forEach((t, i) => {
  if (!priceTickLabels[i]) return;
  const el = mk(axisLayer, 'text', {class: 'axis', x: 1523, y: yOfPrice(t) + 4.3}, priceTickLabels[i]);
  if (t === 1300) el.setAttribute('clip-path', 'url(#axis-top-clip)');
  
  
});
macdTicks.forEach((t, i) => {
  const el = mk(axisLayer, 'text', {class: 'axis', x: 1521.5, y: yOfMacd(t) + 4.3}, macdTickLabels[i]);
  
  
});
rsiTicks.forEach((t, i) => {
  const el = mk(axisLayer, 'text', {class: 'axis', x: 1521.5, y: yOfRsi(t) + 4.3}, rsiTickLabels[i]);
  
  
});
timeTicks.forEach((t, i) => {
  const el = mk(axisLayer, 'text', {class: 'axis', x: xOfYear(t), y: 853.5, 'text-anchor': 'middle', 'clip-path': 'url(#time-clip)'}, timeTickLabels[i]);
  
  
});

/* ---------- last price badge ---------- */
const badgeLayer = document.getElementById('badge-layer');
const badgeY = yOfPrice(lastClose);
const badgeRect = mk(badgeLayer, 'rect', {x: 1514, y: badgeY - 8.3, width: 50, height: 30.7, rx: 1.5, fill: '#33a845'});


const badgeHandle = mk(badgeLayer, 'path', {d: 'M1514 ' + (badgeY + 0.7) + 'L1520 ' + (badgeY + 6.7) + 'L1514 ' + (badgeY + 12.7) + 'Z', fill: '#d1d4dc'});


const badgePrice = mk(badgeLayer, 'text', {x: 1523, y: badgeY + 4.2, fill: '#ffffff', stroke: '#ffffff', 'stroke-width': 0.2}, lastClose.toFixed(2));


const badgeTime = mk(badgeLayer, 'text', {x: 1523, y: badgeY + 18.8, fill: '#cfeed4'}, '8d 0h');


</script>
</svg>
</body>
</html>
